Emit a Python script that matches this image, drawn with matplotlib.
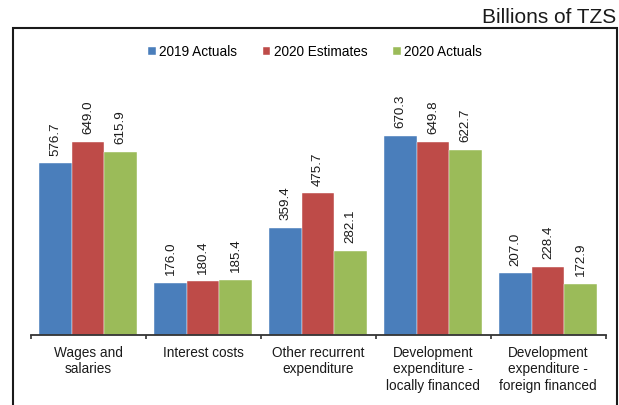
import numpy as np
import matplotlib.pyplot as plt
from matplotlib.patches import Rectangle

plt.rcParams['font.family'] = ['Liberation Sans', 'DejaVu Sans']

# expenditure categories and values (Billions of TZS)
categories = ["Wages and\nsalaries", "Interest costs", "Other recurrent\nexpenditure",
              "Development\nexpenditure -\nlocally financed",
              "Development\nexpenditure -\nforeign financed"]
series_names = ["2019 Actuals", "2020 Estimates", "2020 Actuals"]
actuals_2019 = [576.7, 176.0, 359.4, 670.3, 207.0]
estimates_2020 = [649.0, 180.4, 475.7, 649.8, 228.4]
actuals_2020 = [615.9, 185.4, 282.1, 622.7, 172.9]

colors = ["#4a7ebb", "#be4b48", "#9bbb59"]

fig = plt.figure(figsize=(6.19, 4.05), dpi=100)
W, H = 619, 405
# axes placed in pixel terms: baseline at y=335, x from 30.5 to 605.5
ax = fig.add_axes([30.5 / W, (H - 335) / H, 575 / W, 300 / H])

x = np.arange(len(categories))
bw = 0.283
for k, vals in enumerate([actuals_2019, estimates_2020, actuals_2020]):
    pos = x + (k - 1) * bw
    ax.bar(pos, vals, width=bw, color=colors[k], label=series_names[k],
           edgecolor="white", linewidth=0.3, zorder=2)
    for xi, v in zip(pos, vals):
        ax.annotate(f"{v:.1f}", (xi, v), xytext=(0, 5.5), textcoords="offset points",
                    rotation=90, ha="center", va="bottom", fontsize=9.6,
                    color="#1a1a1a")

ax.set_xlim(-0.5, len(categories) - 0.5)
ax.set_ylim(0, 1008)

for side in ["top", "left", "right"]:
    ax.spines[side].set_visible(False)
ax.spines["bottom"].set_color("#333333")
ax.spines["bottom"].set_linewidth(1.3)
ax.set_yticks([])

ax.set_xticks(x)
ax.set_xticklabels(categories, fontsize=9.8, color="#1a1a1a", linespacing=1.2)
ax.tick_params(axis="x", which="major", length=0, pad=8)
ax.set_xticks(np.arange(-0.5, len(categories)), minor=True)
ax.tick_params(axis="x", which="minor", length=3, width=1.2, color="#333333",
               direction="out")

ax.legend(loc="upper center", bbox_to_anchor=(0.495, 1.0), ncol=3, frameon=False,
          fontsize=9.8, handlelength=0.55, handleheight=0.55, handletextpad=0.25,
          columnspacing=1.9, borderaxespad=0.3)

# outer frame around the chart
fig.patches.append(Rectangle((12.7 / W, -0.1), 604 / W, (H - 27.7) / H + 0.1,
                             transform=fig.transFigure, fill=False,
                             edgecolor="#1a1a1a", linewidth=1.5))

fig.text(616 / W, (H - 23) / H, "Billions of TZS", ha="right", va="baseline",
         fontsize=15, color="#1a1a1a")

fig.savefig("out.png", dpi=100)
